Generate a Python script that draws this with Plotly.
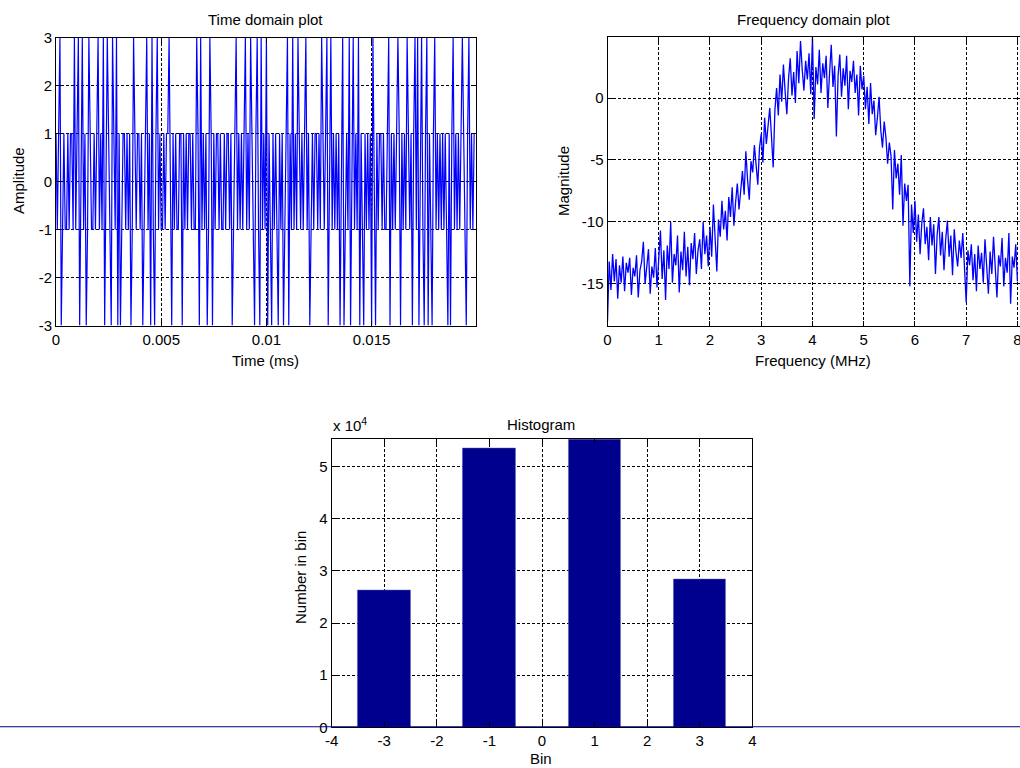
import numpy as np
import plotly.graph_objects as go

W, H = 1020, 768

# ---------------- data ----------------
fs_mhz = 16.0  # sample rate (MHz) -> frequency axis up to 8 MHz

time_levels = [
    1, -1, 1, 3, -3, -1, 1, -1, -1, 1, -1, 1, 1, -1, 3, -1, 1, 3, -3, 1,
    3, -1, 1, -3, -1, 3, 1, -1, -1, 1, -1, 1, 3, -1, 1, -1, 3, -3, 1, 3,
    1, -1, -3, 3, 1, -1, 3, -3, 1, -3, -1, 1, 1, -1, 1, -1, 1, -3, -1, 3,
    1, -1, 1, 1, -1, 1, -3, -1, 1, 3, -1, 1, -3, 3, -1, -3, 1, 3, -1, 1,
    -1, -1, 1, -1, 1, 1, 3, -1, -3, 1, -1, 1, -1, -1, 1, 1, -3, 1, -1, 1,
    -1, 1, 1, -1, 1, -1, -1, 3, 1, -3, 3, -1, 1, -1, 1, -3, -1, 3, 1, -3,
    1, -1, 1, 1, -1, 1, -1, -1, 1, -1, 1, 1, -1, 1, -3, -1, 1, 3, -1, 1,
    -1, 1, -1, 1, 3, -1, 1, -1, 3, 1, -1, -3, 1, 3, -1, -3, 3, -1, 1, -1,
    3, -3, 1, -1, -3, 1, -1, 1, -1, -3, 1, -1, 1, -3, -1, 1, 3, -3, 1, -1,
    3, -1, 1, -1, 3, 1, -1, 1, -1, 1, 3, -1, 1, -3, -1, 1, -1, 1, 1, -1,
    1, -1, 3, 1, -1, 1, 3, -3, 1, 3, -1, 1, -1, 1, -1, 1, -3, 1, 3, -3,
    -1, 1, -1, 3, -3, 1, 3, -1, 1, -1, 3, -3, 1, -1, -3, 1, -1, 1, -1, 1,
    -3, 3, -1, -3, 1, -1, 1, 1, -1, 1, -1, -1, 1, 3, -3, 1, -1, 1, -1, 1,
    3, 1, -3, 1, -1, 1, -1, 3, 1, -1, 1, -3, 1, 3, -1, 3, -3, 1, 3, -1,
    -3, 1, 3, -3, 1, -1, -3, 1, 3, -1, 1, -1, 1, -1, 1, -1, 1, -1, -3, 1,
    -3, 1, 3, -1, 1, -1, 1, -1, 1, 3, 1, -1, -3, 1, 3, -1, 1, -1, 1, 1,
]

freq_mag_db = [
    -18.0, -13.2, -15.5, -12.6, -14.8, -13.0, -16.2, -13.5, -14.9, -12.8,
    -15.6, -13.3, -14.1, -12.9, -15.9, -13.7, -14.4, -12.7, -16.1, -13.9,
    -13.2, -11.6, -15.0, -13.4, -12.2, -15.8, -13.6, -14.5, -12.1, -15.3,
    -12.8, -10.7, -14.6, -12.3, -16.3, -11.9, -13.8, -10.0, -14.9, -12.6,
    -13.5, -11.1, -15.7, -12.4, -13.9, -10.8, -14.4, -12.0, -15.1, -11.7,
    -13.0, -10.9, -14.2, -12.3, -11.4, -13.8, -10.0, -12.6, -11.1, -13.6,
    -10.4, -12.8, -8.6, -11.7, -14.0, -9.8, -11.2, -8.3, -10.6, -9.1,
    -11.5, -8.0, -9.6, -7.2, -10.3, -8.4, -6.9, -9.0, -7.5, -5.9,
    -7.8, -4.3, -6.6, -8.2, -5.1, -6.0, -3.8, -5.6, -7.0, -4.0,
    -2.9, -5.2, -1.6, -3.7, -2.2, -0.8, -3.1, -5.6, -1.0, 0.8,
    -1.4, 1.9, -0.3, 2.7, 0.5, -1.3, 1.6, 3.2, 0.2, 2.1,
    -0.4, 3.8, 1.2, 4.6, 2.3, 0.6, 3.0, 1.5, 3.6, 0.3,
    4.9, -1.7, 2.5, 1.1, 3.9, 0.4, 2.8, 1.6, 3.4, -0.8,
    2.0, 4.3, 0.9, 2.6, -3.1, 1.8, 3.5, 0.1, 2.4, 1.0,
    3.4, -0.9, 2.2, 1.3, 3.0, 0.4, 1.9, -1.4, 2.6, 0.7,
    1.8, -0.9, 0.9, -2.1, 1.2, -1.3, -0.2, -3.0, -1.6, 0.1,
    -2.6, -4.0, -1.9, -3.2, -5.3, -3.6, -4.7, -9.0, -4.2, -6.5,
    -5.3, -7.8, -4.6, -10.3, -6.9, -8.3, -7.0, -15.2, -8.6, -10.9,
    -8.3, -11.6, -9.4, -12.6, -10.1, -8.9, -11.8, -10.4, -13.1, -9.6,
    -11.9, -10.2, -14.2, -11.0, -9.6, -12.7, -10.8, -13.9, -11.4, -9.9,
    -12.8, -11.1, -14.3, -10.6, -12.4, -13.6, -11.5, -12.9, -10.9, -14.0,
    -16.5, -12.3, -13.5, -11.8, -14.7, -12.6, -15.6, -11.9, -13.8, -12.5,
    -14.9, -11.4, -13.3, -15.8, -12.4, -14.2, -11.2, -13.9, -16.1, -12.7,
    -13.6, -11.3, -15.2, -12.9, -14.1, -10.9, -16.6, -12.8, -13.7, -11.8,
    -14.8,
]

hist_bins = [-3, -1, 1, 3]
hist_counts = [26220, 53610, 55270, 28330]

time_ticks = [0, 0.005, 0.01, 0.015]
time_ticktext = ["0", "0.005", "0.01", "0.015"]
amp_ticks = [-3, -2, -1, 0, 1, 2, 3]
freq_ticks = [0, 1, 2, 3, 4, 5, 6, 7, 8]
mag_ticks = [-15, -10, -5, 0]
bin_ticks = [-4, -3, -2, -1, 0, 1, 2, 3, 4]
count_ticks = [0, 10000, 20000, 30000, 40000, 50000]
count_ticktext = ["0", "1", "2", "3", "4", "5"]

# ---------------- derived ----------------
t_ms = np.arange(len(time_levels)) / (fs_mhz * 1000.0)
freq = np.linspace(0, fs_mhz / 2, len(freq_mag_db))


def px(x):
    return x / W


def py(y):
    return 1 - y / H


def lab(v):
    return str(v)


FONT = "Liberation Sans, Arial, Helvetica, sans-serif"
FS = 15
BLUE = "#0000FF"
NAVY = "#00008F"

fig = go.Figure()

fig.add_trace(go.Scatter(x=t_ms, y=time_levels, mode="lines",
                         line=dict(color=BLUE, width=1.2),
                         xaxis="x", yaxis="y", showlegend=False))
fig.add_trace(go.Scatter(x=freq, y=freq_mag_db, mode="lines",
                         line=dict(color=BLUE, width=1.3),
                         xaxis="x2", yaxis="y2", showlegend=False))
fig.add_trace(go.Bar(x=hist_bins, y=hist_counts, width=1.0,
                     marker=dict(color=NAVY, line=dict(color="#5a5aaa", width=0.5)),
                     xaxis="x3", yaxis="y3", showlegend=False))

axis_common = dict(
    showline=True, linecolor="black", linewidth=1, mirror="ticks",
    ticks="inside", ticklen=5, tickcolor="black", tickwidth=1,
    showgrid=True, gridcolor="black", gridwidth=1, griddash="3px,2px",
    zeroline=False, tickfont=dict(family=FONT, size=FS, color="black"),
    automargin=False, ticklabeloverflow="allow",
)

fig.update_layout(
    width=W, height=H,
    margin=dict(l=0, r=0, t=0, b=0),
    paper_bgcolor="white", plot_bgcolor="white",
    font=dict(family=FONT, size=FS, color="black"),
    bargap=0,
    xaxis=dict(domain=[px(56), px(475.5)], anchor="y",
               range=[0, t_ms[-1]], tickvals=time_ticks, ticktext=time_ticktext,
               **axis_common),
    yaxis=dict(domain=[py(325.5), py(37.5)], anchor="x",
               range=[-3, 3], tickvals=amp_ticks,
               ticktext=[lab(v) for v in amp_ticks], **axis_common),
    xaxis2=dict(domain=[px(607.5), 1.0], anchor="y2",
                range=[0, 8.05], tickvals=freq_ticks,
                ticktext=[lab(v) for v in freq_ticks], **axis_common),
    yaxis2=dict(domain=[py(325.5), py(36.8)], anchor="x2",
                range=[-18.36, 4.94], tickvals=mag_ticks,
                ticktext=[lab(v) for v in mag_ticks], **axis_common),
    xaxis3=dict(domain=[px(331.7), px(752.3)], anchor="y3",
                range=[-4, 4], tickvals=bin_ticks,
                ticktext=[lab(v) for v in bin_ticks], **axis_common),
    yaxis3=dict(domain=[py(727.3), py(439.3)], anchor="x3",
                range=[0, 55270], tickvals=count_ticks,
                ticktext=count_ticktext, **axis_common),
)

# baseline of the histogram, spanning the whole figure width
fig.add_shape(type="line", xref="paper", yref="y3", x0=0, x1=1, y0=0, y1=0,
              line=dict(color="#000080", width=2), opacity=1, layer="above")


def ann(text, x, y, angle=0, size=FS, xanchor="center", yanchor="middle"):
    fig.add_annotation(text=text, x=px(x), y=py(y), xref="paper", yref="paper",
                       showarrow=False, textangle=angle,
                       font=dict(family=FONT, size=size, color="black"),
                       xanchor=xanchor, yanchor=yanchor)


ann("Time domain plot", 265, 19)
ann("Time (ms)", 265, 360)
ann("Amplitude", 18, 181, angle=-90)
ann("Frequency domain plot", 813, 19)
ann("Frequency (MHz)", 813, 361)
ann("Magnitude", 563, 181, angle=-90)
ann("Histogram", 541, 424)
ann("Bin", 541, 758)
ann("Number in bin", 300, 578, angle=-90)
ann("x 10<sup>4</sup>", 331, 424, xanchor="left")

fig.write_html("out.html")
